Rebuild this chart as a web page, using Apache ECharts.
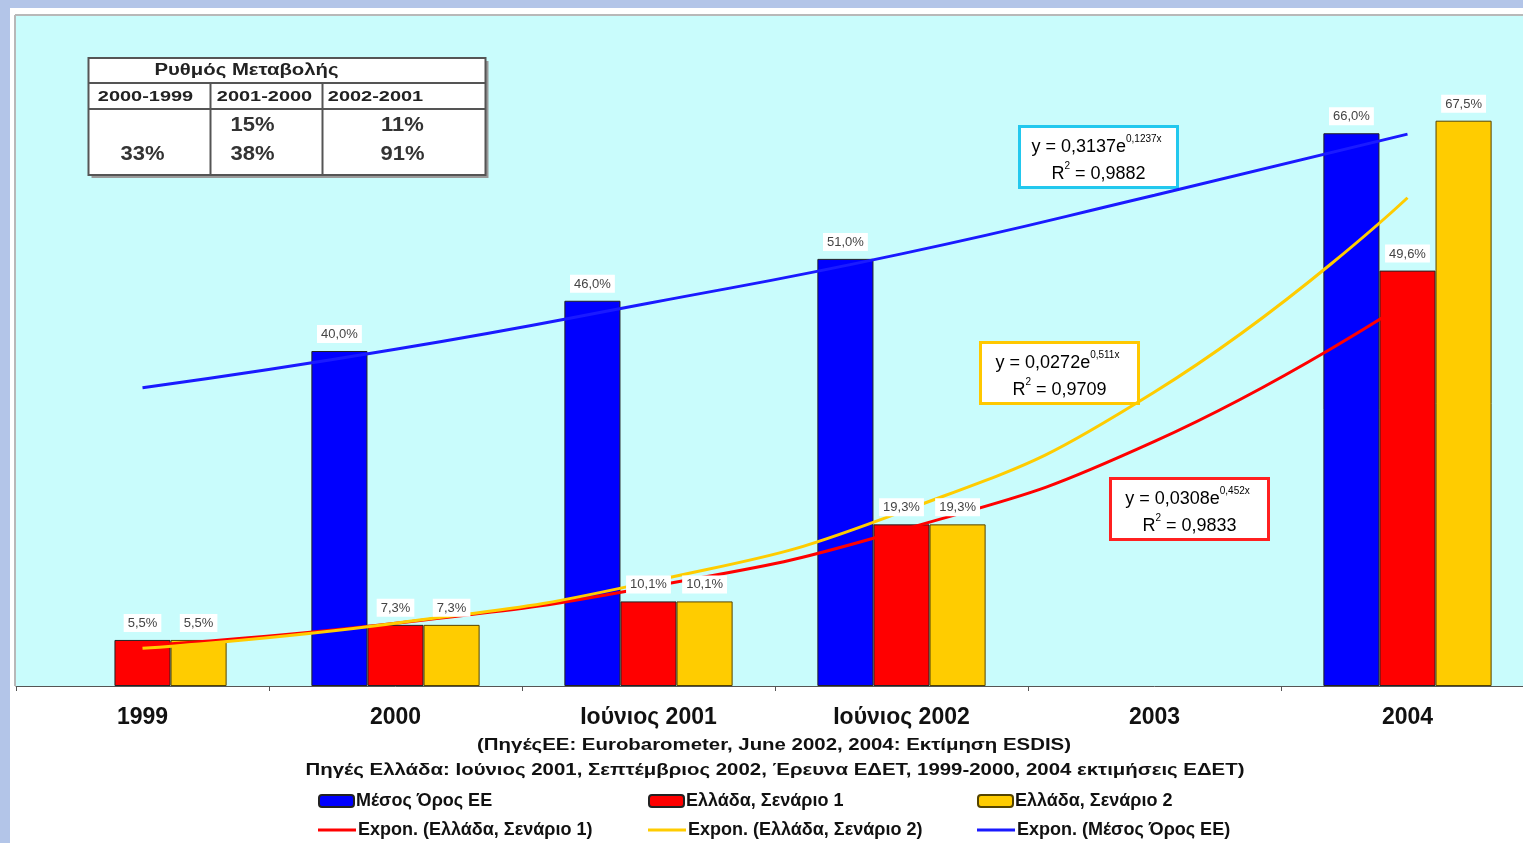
<!DOCTYPE html>
<html>
<head>
<meta charset="utf-8">
<script src="https://cdn.jsdelivr.net/npm/echarts@6/dist/echarts.min.js"></script>
<style>
html,body{margin:0;padding:0;background:#fff;overflow:hidden;}
#chart{width:1536px;height:843px;}
</style>
</head>
<body>
<div id="chart"></div>
<script>
// ---- data ----
const categories = ['1999', '2000', 'Ιούνιος 2001', 'Ιούνιος 2002', '2003', '2004'];
const euAvg     = [null, 40.0, 46.0, 51.0, null, 66.0];
const grScen1   = [5.5, 7.3, 10.1, 19.3, null, 49.6];
const grScen2   = [5.5, 7.3, 10.1, 19.3, null, 67.5];
const trendScen1 = [4.8, 7.5, 11.8, 18.6, 29.2, 45.9];
const trendScen2 = [4.5, 7.5, 12.4, 20.8, 35.1, 58.3];
const trendEU    = [35.6, 40.2, 45.7, 51.6, 58.6, 65.9];
const seriesNames = ['Μέσος Όρος ΕΕ', 'Ελλάδα, Σενάριο 1', 'Ελλάδα, Σενάριο 2'];
const trendNames = ['Expon. (Ελλάδα, Σενάριο 1)', 'Expon. (Ελλάδα, Σενάριο 2)', 'Expon. (Μέσος Όρος ΕΕ)'];
const eqEU    = ['y = 0,3137e', '0,1237x', 'R', '2', ' = 0,9882'];
const eqScen2 = ['y = 0,0272e', '0,511x', 'R', '2', ' = 0,9709'];
const eqScen1 = ['y = 0,0308e', '0,452x', 'R', '2', ' = 0,9833'];
const tableTitle = 'Ρυθμός Μεταβολής';
const tablePeriods = ['2000-1999', '2001-2000', '2002-2001'];
const tableRow1 = ['', '15%', '11%'];
const tableRow2 = ['33%', '38%', '91%'];
const sourceLines = [
  '(ΠηγέςΕΕ: Eurobarometer, June 2002, 2004: Εκτίμηση ESDIS)',
  'Πηγές Ελλάδα: Ιούνιος 2001, Σεπτέμβριος 2002, Έρευνα ΕΔΕΤ, 1999-2000, 2004 εκτιμήσεις ΕΔΕΤ)'
];

const FONT = '"Liberation Sans", Arial, sans-serif';
const C_BLUE = '#0000ff', C_RED = '#ff0000', C_YEL = '#ffcc00', C_TBLUE = '#1a1aff';
const barValues = [euAvg, grScen1, grScen2];
const barColors = [C_BLUE, C_RED, C_YEL];
const barBorders = ['#222', '#222', '#554400'];

function fmtVal(v) { return v == null ? '' : v.toFixed(1).replace('.', ',') + '%'; }

function eqBox(x, y, color, eq) {
  const richA = { fontSize: 18, color: '#555', fontFamily: FONT, lineHeight: 22, verticalAlign: 'bottom' };
  const richS = { fontSize: 10, color: '#555', fontFamily: FONT, lineHeight: 22, verticalAlign: 'top' };
  return {
    type: 'group', left: x, top: y, z: 50,
    children: [
      { type: 'rect', shape: { x: 0, y: 0, width: 158, height: 61 },
        style: { fill: '#fff', stroke: color, lineWidth: 3 } },
      { type: 'text', style: {
          x: 77, y: 19, align: 'center', verticalAlign: 'middle',
          text: '{a|' + eq[0] + '}{s|' + eq[1] + '}', rich: { a: richA, s: richS } } },
      { type: 'text', style: {
          x: 79, y: 46, align: 'center', verticalAlign: 'middle',
          text: '{a|' + eq[2] + '}{s|' + eq[3] + '}{a|' + eq[4] + '}', rich: { a: richA, s: richS } } }
    ]
  };
}

function stretchedText(x, y, text, font, fill, sx) {
  return { type: 'text', x: x, y: y, scaleX: sx,
    style: { x: 0, y: 0, align: 'center', verticalAlign: 'middle', text: text, font: font, fill: fill } };
}

function tableGraphic() {
  const ch = [
    { type: 'rect', shape: { x: 3, y: 3, width: 397, height: 117 }, style: { fill: '#9a9a9a' } },
    { type: 'rect', shape: { x: 0, y: 0, width: 397, height: 117 }, style: { fill: '#fff', stroke: '#555', lineWidth: 2 } },
    { type: 'line', shape: { x1: 0, y1: 25, x2: 397, y2: 25 }, style: { stroke: '#555', lineWidth: 2 } },
    { type: 'line', shape: { x1: 0, y1: 51, x2: 397, y2: 51 }, style: { stroke: '#555', lineWidth: 2 } },
    { type: 'line', shape: { x1: 122, y1: 25, x2: 122, y2: 117 }, style: { stroke: '#555', lineWidth: 2 } },
    { type: 'line', shape: { x1: 234, y1: 25, x2: 234, y2: 117 }, style: { stroke: '#555', lineWidth: 2 } },
    stretchedText(158, 13, tableTitle, 'bold 16px ' + FONT, '#222', 1.27)
  ];
  const periodX = [57, 176, 287];
  const valX = [54, 164, 314];
  for (let i = 0; i < 3; i++) {
    ch.push(stretchedText(periodX[i], 39, tablePeriods[i], 'bold 15px ' + FONT, '#222', 1.33));
    ch.push(stretchedText(valX[i], 67, tableRow1[i], 'bold 20px ' + FONT, '#333', 1.1));
    ch.push(stretchedText(valX[i], 96, tableRow2[i], 'bold 20px ' + FONT, '#333', 1.1));
  }
  return { type: 'group', left: 86, top: 57, z: 50, children: ch };
}

const legendText = { fontSize: 18, fontWeight: 'bold', color: '#111', fontFamily: FONT, padding: [0, 0, 0, -3] };
const legendX = [313, 643, 972];
const legends = [];
for (let i = 0; i < 3; i++) {
  legends.push({ data: [seriesNames[i]], left: legendX[i], top: 787, itemWidth: 35, itemHeight: 12,
    selectedMode: false, textStyle: legendText });
  legends.push({ data: [{ name: trendNames[i], icon: 'rect' }], left: legendX[i], top: 816, itemWidth: 38, itemHeight: 3,
    selectedMode: false, textStyle: legendText });
}

const series = [];
for (let i = 0; i < 3; i++) {
  series.push({ name: seriesNames[i], type: 'bar', stack: 'g' + i, data: barValues[i],
    barGap: '0%', barCategoryGap: '33.5%',
    itemStyle: { color: barColors[i], borderColor: barBorders[i], borderWidth: 1 }, z: 2 });
}
// zero-height companions stacked on top of each bar, carrying the value labels above the trend lines
for (let i = 0; i < 3; i++) {
  const vals = barValues[i];
  series.push({ name: 'lbl' + i, type: 'bar', stack: 'g' + i, data: vals.map(v => v == null ? null : 0),
    itemStyle: { color: 'rgba(0,0,0,0)' }, silent: true, z: 5,
    label: { show: true, position: 'top', distance: 8, formatter: p => fmtVal(vals[p.dataIndex]),
      backgroundColor: '#fff', padding: [3, 4, 2, 4], fontSize: 13, color: '#444', fontFamily: FONT } });
}
series.push(
  { name: trendNames[0], type: 'line', data: trendScen1, smooth: true, symbol: 'none',
    lineStyle: { color: C_RED, width: 3 }, itemStyle: { color: C_RED }, z: 3 },
  { name: trendNames[1], type: 'line', data: trendScen2, smooth: true, symbol: 'none',
    lineStyle: { color: C_YEL, width: 3 }, itemStyle: { color: C_YEL }, z: 3 },
  { name: trendNames[2], type: 'line', data: trendEU, smooth: true, symbol: 'none',
    lineStyle: { color: C_TBLUE, width: 3 }, itemStyle: { color: C_TBLUE }, z: 3 }
);

const chart = echarts.init(document.getElementById('chart'), null, { renderer: 'canvas' });
chart.setOption({
  backgroundColor: '#fff',
  animation: false,
  grid: { left: 16, top: 16, width: 1518, height: 670, show: true,
          backgroundColor: '#c9fcfc', borderWidth: 0 },
  xAxis: {
    type: 'category', data: categories, boundaryGap: true,
    axisLine: { lineStyle: { color: '#555', width: 1 } },
    axisTick: { show: true, length: 5, lineStyle: { color: '#555' } },
    axisLabel: { margin: 20, fontSize: 23, fontWeight: 'bold', color: '#111', fontFamily: FONT, interval: 0 }
  },
  yAxis: { type: 'value', min: 0, max: 80, show: false, splitLine: { show: false } },
  legend: legends,
  series: series,
  graphic: [
    { type: 'rect', left: 0, top: 0, z: -10, shape: { width: 1536, height: 8 }, style: { fill: '#b3c5e8' } },
    { type: 'rect', left: 0, top: 0, z: -10, shape: { width: 10, height: 843 }, style: { fill: '#b3c5e8' } },
    { type: 'line', z: 10, shape: { x1: 15, y1: 15, x2: 1536, y2: 15 }, style: { stroke: '#b8b8b8', lineWidth: 2 } },
    { type: 'line', z: 10, shape: { x1: 15, y1: 15, x2: 15, y2: 686 }, style: { stroke: '#b8b8b8', lineWidth: 2 } },
    tableGraphic(),
    eqBox(1018, 125, '#22c8ee', eqEU),
    eqBox(979, 341, '#ffc800', eqScen2),
    eqBox(1109, 477, '#ff2020', eqScen1),
    Object.assign(stretchedText(774, 745, sourceLines[0], 'bold 17px ' + FONT, '#111', 1.2), { z: 50 }),
    Object.assign(stretchedText(775, 770, sourceLines[1], 'bold 17px ' + FONT, '#111', 1.2), { z: 50 })
  ]
});
</script>
</body>
</html>
